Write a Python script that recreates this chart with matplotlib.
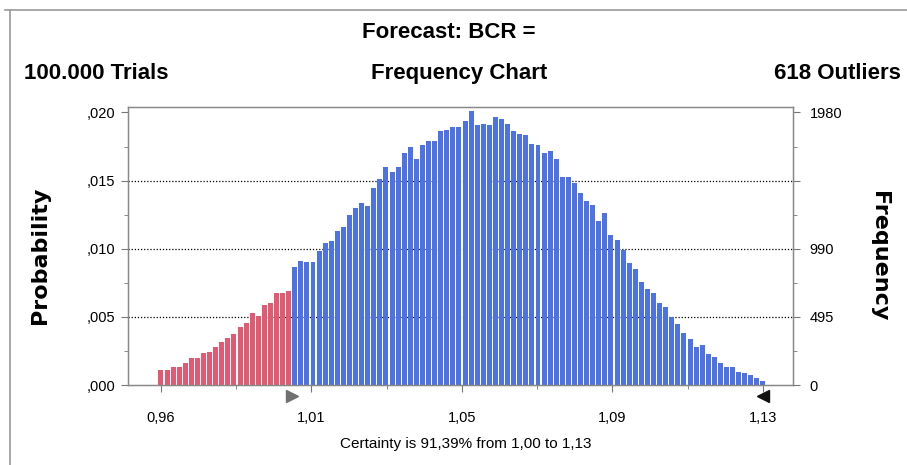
import matplotlib
matplotlib.use('Agg')
import matplotlib.pyplot as plt
from matplotlib.lines import Line2D
from matplotlib.transforms import blended_transform_factory
import numpy as np

# Fuentes
NARROW = ['Liberation Sans Narrow', 'Liberation Sans', 'DejaVu Sans']
plt.rcParams['font.family'] = NARROW

# ============================================================================
# Datos
# ============================================================================
# Probabilidad por clase (100 clases, de izquierda a derecha)
probabilidad = [
    0.00110, 0.00110, 0.00134, 0.00134, 0.00163, 0.00196, 0.00196, 0.00237, 0.00244, 0.00281,
    0.00317, 0.00342, 0.00371, 0.00427, 0.00452, 0.00530, 0.00505, 0.00586, 0.00603, 0.00676,
    0.00676, 0.00691,
    0.00867, 0.00908, 0.00899, 0.00899, 0.00984, 0.01042, 0.01057, 0.01130, 0.01160, 0.01245,
    0.01302, 0.01336, 0.01316, 0.01448, 0.01514, 0.01599, 0.01563, 0.01599, 0.01702, 0.01746,
    0.01656, 0.01758, 0.01790, 0.01790, 0.01863, 0.01868, 0.01892, 0.01892, 0.01936, 0.02010,
    0.01905, 0.01917, 0.01905, 0.01966, 0.01949, 0.01917, 0.01861, 0.01844, 0.01832, 0.01766,
    0.01763, 0.01702, 0.01714, 0.01656, 0.01526, 0.01526, 0.01482, 0.01409, 0.01350, 0.01319,
    0.01204, 0.01262, 0.01099, 0.01067, 0.00989, 0.00896, 0.00848, 0.00757, 0.00701, 0.00676,
    0.00603, 0.00569, 0.00496, 0.00447, 0.00383, 0.00335, 0.00276, 0.00293, 0.00227, 0.00203,
    0.00159, 0.00134, 0.00134, 0.00097, 0.00090, 0.00073, 0.00049, 0.00029,
]
x_min, x_max = 0.964, 1.134          # centro de la primera y última clase
certeza_desde, certeza_hasta = 1.001, 1.134

x_ticks = [0.964, 1.0065, 1.049, 1.0915, 1.134]
x_labels = ['0,96', '1,01', '1,05', '1,09', '1,13']
y_ticks = [0.0, 0.005, 0.010, 0.015, 0.020]
y_labels = [',000', ',005', ',010', ',015', ',020']
freq_ticks = [0, 495, 990, 1485, 1980]
freq_labels = ['0', '495', '990', '', '1980']

# ============================================================================
# Gráfico
# ============================================================================
fig = plt.figure(figsize=(9.07, 4.65), dpi=100)
ax = fig.add_axes([0.1411, 0.172, 0.7332, 0.5979])

centros = np.linspace(x_min, x_max, len(probabilidad))
paso = centros[1] - centros[0]
colores = ['#e25a72' if c < certeza_desde else '#4d72e6' for c in centros]
ax.bar(centros, probabilidad, width=paso * 0.82, color=colores, zorder=2, linewidth=0)

for y in [0.005, 0.010, 0.015]:
    ax.axhline(y, color='black', linestyle=(0, (1, 1.5)), linewidth=0.9, zorder=1)

ax.set_xlim(x_min - 33 * 0.0002824, x_max + 30 * 0.0002824)
ax.set_ylim(0, 0.0204)
ax.set_xticks(x_ticks)
ax.set_xticklabels(x_labels, fontsize=10.5)
ax.set_xticks([(a + b) / 2 for a, b in zip(x_ticks[:-1], x_ticks[1:])], minor=True)
ax.set_yticks(y_ticks)
ax.set_yticklabels(y_labels, fontsize=10.5)
ax.set_yticks([0.0025, 0.0075, 0.0125, 0.0175], minor=True)
ax.tick_params(axis='both', which='both', direction='out', color='#777777')
ax.tick_params(axis='both', which='major', length=5, pad=4)
ax.tick_params(axis='both', which='minor', length=3)
ax.tick_params(axis='x', pad=14)
for sp in ax.spines.values():
    sp.set_color('#888888')
    sp.set_linewidth(1)

ax2 = ax.twinx()
ax2.set_ylim(0, 0.0204 * 99000)
ax2.set_yticks(freq_ticks)
ax2.set_yticklabels(freq_labels, fontsize=10.5)
ax2.set_yticks([247.5, 742.5, 1237.5, 1732.5], minor=True)
ax2.tick_params(axis='y', which='both', direction='out', color='#777777')
ax2.tick_params(axis='y', which='major', length=5, pad=7)
ax2.tick_params(axis='y', which='minor', length=3)
for sp in ax2.spines.values():
    sp.set_color('#888888')

# Marcadores de certeza
trans = blended_transform_factory(ax.transData, ax.transAxes)
ax.plot([certeza_desde], [-0.04], marker='>', markersize=9, color='#707070',
        transform=trans, clip_on=False, zorder=5)
ax.plot([certeza_hasta], [-0.04], marker='<', markersize=9, color='#111111',
        transform=trans, clip_on=False, zorder=5)

# Textos
fig.text(0.495, 0.931, 'Forecast: BCR =', ha='center', va='center', fontsize=16, fontweight='bold')
fig.text(0.026, 0.841, '100.000 Trials', ha='left', va='center', fontsize=16, fontweight='bold')
fig.text(0.506, 0.841, 'Frequency Chart', ha='center', va='center', fontsize=16, fontweight='bold')
fig.text(0.993, 0.841, '618 Outliers', ha='right', va='center', fontsize=16, fontweight='bold')
fig.text(0.044, 0.452, 'Probability', ha='center', va='center', rotation=90,
         fontsize=16, fontweight='bold', family='DejaVu Sans')
fig.text(0.969, 0.45, 'Frequency', ha='center', va='center', rotation=270,
         fontsize=16, fontweight='bold', family='DejaVu Sans')
fig.text(0.513, 0.045, 'Certainty is 91,39% from 1,00 to 1,13', ha='center', va='center', fontsize=11)

# Marco exterior
fig.add_artist(Line2D([0.006, 1.0], [0.978, 0.978], color='#999999', lw=1.2, transform=fig.transFigure))
fig.add_artist(Line2D([0.011, 0.011], [0.0, 0.978], color='#999999', lw=1.2, transform=fig.transFigure))

plt.savefig('out.png', dpi=100)
print("✓ Gráfico generado: out.png")
